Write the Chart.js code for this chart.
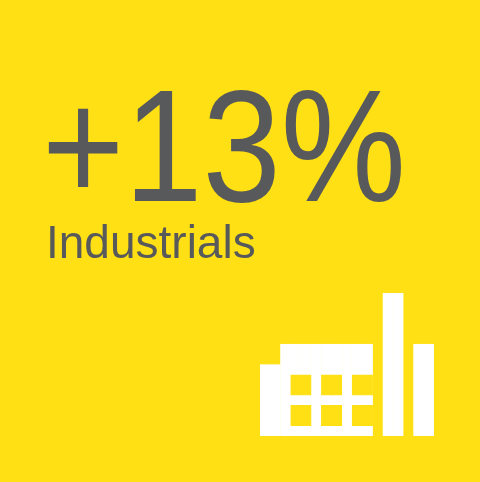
<!DOCTYPE html>
<html lang="en">
  <head>
    <meta charset="utf-8" />
    <title>Industrials +13%</title>
    <style>
      * { margin: 0; padding: 0; }
      body { background: #ffe014; }
    </style>
  </head>
  <body>
    <canvas id="myChart" width="480" height="482"></canvas>
    <script src="https://cdn.jsdelivr.net/npm/chart.js@4.0.1/dist/chart.umd.min.js"></script>
    <script>
      const headline = "+13%";
      const category = "Industrials";
      // factory icon, one entry per grid column
      const columns = ["0", "1", "2", "3", "4", "5", "6", "7", "8", "9", "10", "11", "12", "13", "14", "15", "16"];
      const buildingHeights = [7, 7, 9, 9, 9, 9, 9, 9, 9, 9, 9, null, 14, 14, null, 9, 9];
      const windowsLow = [null, null, null, [1, 3], [1, 3], null, [1, 3], [1, 3], null, [1, 3], [1, 3], null, null, null, null, null, null];
      const windowsHigh = [null, null, null, [4, 6], [4, 6], null, [4, 6], [4, 6], null, [4, 6], [4, 6], null, null, null, null, null, null];

      const yellow = "#ffe014";
      const gray = "#58595b";

      const textPlugin = {
        id: "textPlugin",
        beforeDraw(chart) {
          const { ctx } = chart;
          ctx.save();
          ctx.fillStyle = yellow;
          ctx.fillRect(0, 0, chart.width, chart.height);
          ctx.fillStyle = gray;
          ctx.textBaseline = "alphabetic";
          ctx.save();
          ctx.translate(42, 201);
          ctx.scale(0.88, 1);
          ctx.font = "160px 'Liberation Sans', Arial, sans-serif";
          ctx.fillText(headline, 0, 0);
          ctx.restore();
          ctx.font = "46px 'Liberation Sans', Arial, sans-serif";
          ctx.fillText(category, 46, 258);
          ctx.restore();
        },
      };

      const bar = (data, color, order) => ({
        data: data,
        order: order,
        backgroundColor: color,
        borderColor: color,
        borderWidth: 0.6,
        borderSkipped: false,
        barPercentage: 1,
        categoryPercentage: 1,
      });

      new Chart(document.getElementById("myChart"), {
        type: "bar",
        data: {
          labels: columns,
          datasets: [
            bar(windowsLow, yellow, 0),
            bar(windowsHigh, yellow, 0),
            bar(buildingHeights, "#ffffff", 1),
          ],
        },
        options: {
          responsive: false,
          animation: false,
          layout: { padding: { left: 260, right: 46, top: 293, bottom: 46 } },
          scales: {
            x: { display: false, stacked: true },
            y: { display: false, stacked: false, min: 0, max: 14 },
          },
          plugins: { legend: { display: false }, tooltip: { enabled: false } },
        },
        plugins: [textPlugin],
      });
    </script>
  </body>
</html>
